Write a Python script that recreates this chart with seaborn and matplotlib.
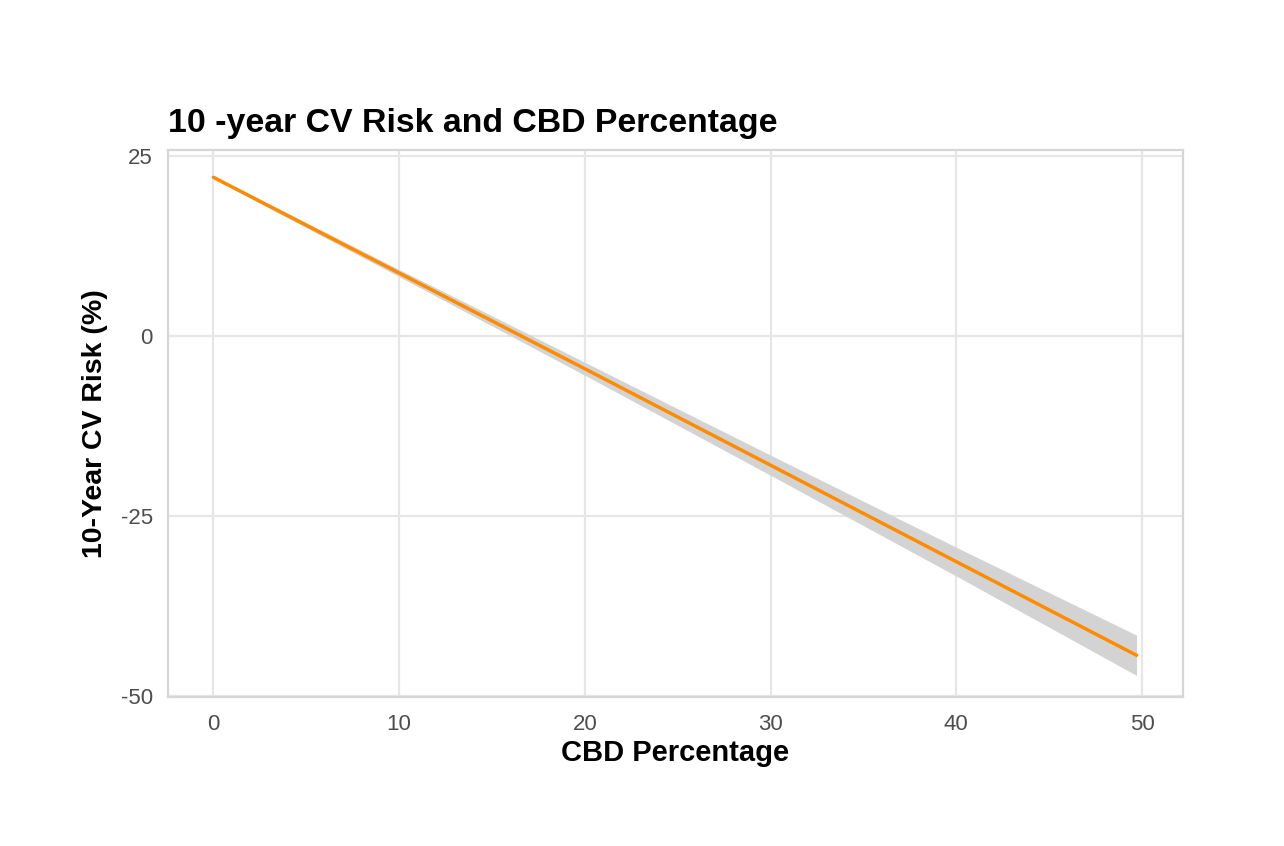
import numpy as np
import pandas as pd
import matplotlib
matplotlib.use('Agg')
import matplotlib.pyplot as plt
import seaborn as sns

# ----------------------------------------------------------------------------------
# values (fitted line and its confidence band)
# ----------------------------------------------------------------------------------
cbd_pct = [0, 10, 20, 30, 40, 49.7]
risk_fit = [22.0, 8.7, -4.6, -18.0, -31.4, -44.4]
risk_lower = [21.8, 8.2, -5.5, -19.4, -33.4, -47.2]
risk_upper = [22.2, 9.2, -3.7, -16.6, -29.4, -41.6]

x_ticks = [0, 10, 20, 30, 40, 50]
y_ticks = [-50, -25, 0, 25]

df = pd.DataFrame({'cbd': cbd_pct, 'fit': risk_fit,
                   'lo': risk_lower, 'hi': risk_upper})

sns.set_theme(style='white')
plt.rcParams['font.family'] = ['Liberation Sans', 'DejaVu Sans']
plt.rcParams['axes.unicode_minus'] = False

fig = plt.figure(figsize=(12.84, 8.46), dpi=100)
ax = fig.add_axes([0.1308, 0.1761, 0.7905, 0.6466])

# grid
for xt in x_ticks:
    ax.axvline(xt, color='#e6e6e6', linewidth=1.6, zorder=0)
for yt in y_ticks:
    ax.axhline(yt, color='#e6e6e6', linewidth=1.6, zorder=0)

# confidence band + fitted line
ax.fill_between(df['cbd'], df['lo'], df['hi'], color='#d3d3d3', linewidth=0, zorder=1)
sns.lineplot(data=df, x='cbd', y='fit', color='#ff8c00', linewidth=2.5, ax=ax, zorder=2)

ax.set_xlim(-2.45, 52.2)
ax.set_ylim(-50.2, 25.8)
ax.set_xticks(x_ticks)
ax.set_yticks(y_ticks)
ax.tick_params(axis='both', length=0, labelsize=16, labelcolor='#4d4d4d')
ax.tick_params(axis='x', pad=12)
ax.tick_params(axis='y', pad=11)

for s in ax.spines.values():
    s.set_color('#d6d6d6')
    s.set_linewidth(1.6)

ax.set_xlabel('CBD Percentage', fontsize=21, fontweight='bold', color='black', labelpad=3)
ax.set_ylabel('10-Year CV Risk (%)', fontsize=20.5, fontweight='bold', color='black', labelpad=9)
ax.set_title('10 -year CV Risk and CBD Percentage', fontsize=24.4, fontweight='bold',
             loc='left', pad=13, color='black')

plt.savefig('out.png', format='png', dpi=100)
print("plotting: complete!")
